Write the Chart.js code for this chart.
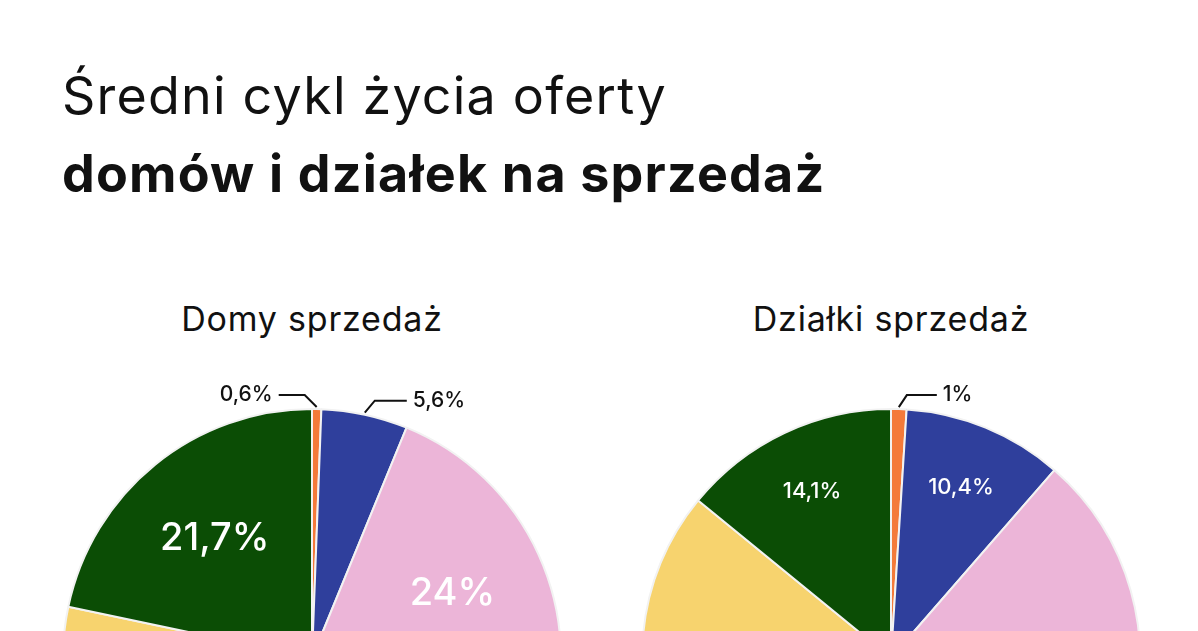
<!DOCTYPE html>
<html><head><meta charset="utf-8">
<script src="https://cdn.jsdelivr.net/npm/chart.js@4/dist/chart.umd.min.js"></script>
<style>
body{margin:0;width:1198px;height:631px;overflow:hidden;background:#fff;position:relative;font-family:Inter,"Open Sans",sans-serif;color:#111}
.t{position:absolute;left:62px;font-size:52px;letter-spacing:1.2px;white-space:nowrap}
.s{position:absolute;font-size:34px;width:500px;text-align:center;top:298px;letter-spacing:0.8px}
canvas{position:absolute}
</style></head><body>
<div class="t" style="top:64px">Średni cykl życia oferty</div>
<div class="t" style="top:142px;font-weight:700">domów i działek na sprzedaż</div>
<div class="s" style="left:62px">Domy sprzedaż</div>
<div class="s" style="left:641px">Działki sprzedaż</div>
<canvas id="c1" width="520" height="550" style="left:52px;top:368px"></canvas>
<canvas id="c2" width="520" height="550" style="left:631px;top:368px"></canvas>
<script>
const categories=["A","B","C","D","E"];
const colors=["#f47a3a","#2f3f9c","#ecb5d8","#f7d36e","#0b4d05"];
const domyValues=[0.6,5.6,24,48.1,21.7];
const domyLabels=["0,6%","5,6%","24%","48,1%","21,7%"];
const dzialkiValues=[1,10.4,37,37.5,14.1];
const dzialkiLabels=["1%","10,4%","37%","37,5%","14,1%"];

function labelPlugin(labels,fontSize,f,outside){
 return {id:'lbl',afterDatasetsDraw(chart){
  const ctx=chart.ctx;const arcs=chart.getDatasetMeta(0).data;
  arcs.forEach((a,i)=>{
   const mid=(a.startAngle+a.endAngle)/2;
   const r=a.outerRadius;
   if(outside[i]){
     const o=outside[i];
     const px=a.x+Math.cos(mid)*r, py=a.y+Math.sin(mid)*r-2;
     const ex=px+o.dx1, ey=py-12;
     ctx.save();ctx.strokeStyle="#111";ctx.lineWidth=2;ctx.beginPath();
     ctx.moveTo(px,py);ctx.lineTo(ex,ey);ctx.lineTo(ex+o.dx2,ey);ctx.stroke();
     ctx.fillStyle="#111";ctx.font="500 21px Inter,sans-serif";ctx.textBaseline="middle";
     ctx.textAlign=o.dx2<0?"right":"left";
     ctx.fillText(labels[i],ex+o.dx2+(o.dx2<0?-6:6),ey);ctx.restore();
   } else {
     ctx.save();ctx.fillStyle="#fff";ctx.font="500 "+fontSize+"px Inter,sans-serif";
     ctx.textAlign="center";ctx.textBaseline="middle";
     ctx.fillText(labels[i],a.x+Math.cos(mid)*r*f,a.y+Math.sin(mid)*r*f);ctx.restore();
   }
  });
 }};
}
function make(id,values,labels,fs,f,outside){
 new Chart(document.getElementById(id),{type:'pie',
  data:{labels:categories,datasets:[{data:values,backgroundColor:colors,borderColor:"#f2f2f2",borderWidth:2}]},
  options:{responsive:false,animation:false,devicePixelRatio:1,layout:{padding:{top:40,left:10,right:10,bottom:10}},
   plugins:{legend:{display:false},tooltip:{enabled:false}}},
  plugins:[labelPlugin(labels,fs,f,outside)]});
}
make("c1",domyValues,domyLabels,38,0.62,{0:{dx1:-12,dx2:-26},1:{dx1:10,dx2:32}});
make("c2",dzialkiValues,dzialkiLabels,22,0.74,{0:{dx1:8,dx2:30}});
</script></body></html>
